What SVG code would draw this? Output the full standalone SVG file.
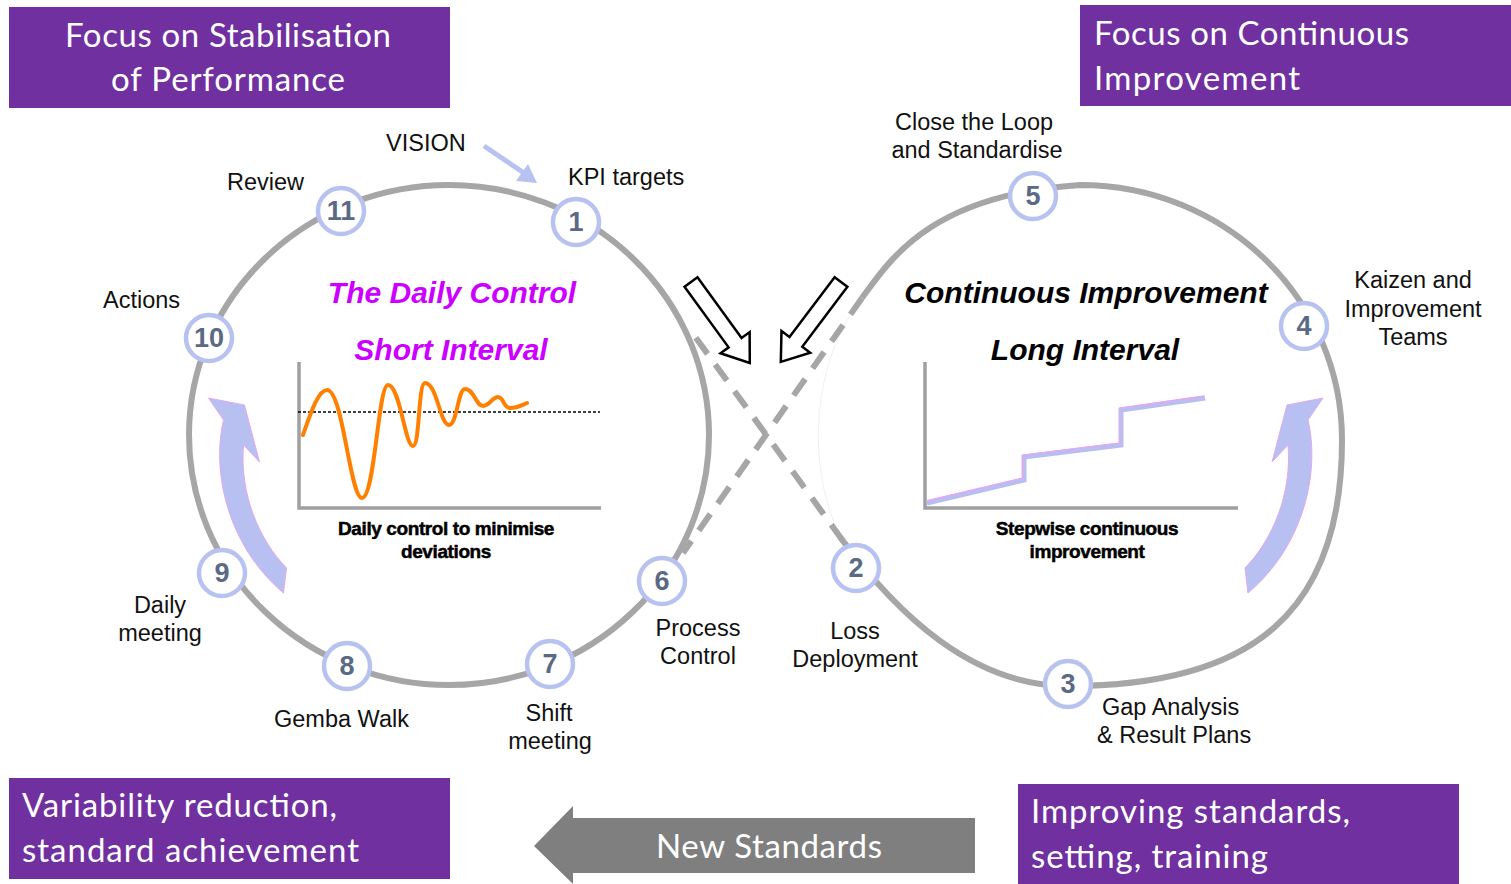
<svg xmlns="http://www.w3.org/2000/svg" width="1511" height="884" viewBox="0 0 1511 884">
<defs>
<style>
.loop{fill:none;stroke:#a6a6a6;stroke-width:6}
.dash{fill:none;stroke:#a6a6a6;stroke-width:6;stroke-dasharray:20 13}
.nc{fill:#fff;stroke:#b8c2f1;stroke-width:4.5}
.nt{font-family:"Liberation Sans",Arial,sans-serif;font-weight:bold;font-size:27px;fill:#5a6a84;text-anchor:middle}
.lb{font-family:"Liberation Sans",Arial,sans-serif;font-size:23.5px;fill:#111}
.mid{text-anchor:middle}
.box{fill:#7030a0}
.bt{font-family:Lato,"Open Sans",sans-serif;font-size:33px;fill:#fff}
.ti{font-family:"Liberation Sans",Arial,sans-serif;font-weight:bold;font-style:italic;font-size:30px;text-anchor:middle}
.cap{font-family:"Liberation Sans",Arial,sans-serif;font-weight:bold;font-size:19px;letter-spacing:-0.4px;fill:#000;stroke:#000;stroke-width:0.5;text-anchor:middle}
.axis{fill:none;stroke:#a0a0a0;stroke-width:3.5}
.hollow{fill:#fff;stroke:#000;stroke-width:2.5;stroke-linejoin:miter}
.curv{fill:#b7c0f0;stroke:#e3a8f3;stroke-width:1}
</style>
</defs>
<rect width="1511" height="884" fill="#fff"/>

<!-- purple boxes -->
<g id="box-stabilisation">
<rect class="box" x="9" y="7" width="441" height="101"/>
<text class="bt" x="228" y="47" text-anchor="middle" textLength="326">Focus on Stabilisation</text>
<text class="bt" x="228" y="91" text-anchor="middle" textLength="234">of Performance</text>
</g>
<g id="box-continuous">
<rect class="box" x="1080" y="5" width="431" height="101"/>
<text class="bt" x="1094" y="45" textLength="315">Focus on Continuous</text>
<text class="bt" x="1094" y="90" textLength="206">Improvement</text>
</g>
<g id="box-variability">
<rect class="box" x="9" y="778" width="441" height="101"/>
<text class="bt" x="22" y="817" textLength="315">Variability reduction,</text>
<text class="bt" x="22" y="862" textLength="337">standard achievement</text>
</g>
<g id="box-improving">
<rect class="box" x="1018" y="784" width="441" height="100"/>
<text class="bt" x="1031" y="823" textLength="319">Improving standards,</text>
<text class="bt" x="1031" y="868" textLength="237">setting, training</text>
</g>
<g id="new-standards">
<polygon points="534,846 573,806 573,818 975,818 975,873 573,873 573,884" fill="#7f7f7f"/>
<text class="bt" x="769" y="858" text-anchor="middle" textLength="226">New Standards</text>
</g>

<!-- loops -->
<g id="loops">
<ellipse class="loop" cx="449" cy="435" rx="260" ry="250"/>
<path d="M862,298 C820,350 800,450 840,537" fill="none" stroke="#f0f0f0" stroke-width="1"/>
<path class="loop" d="M862,298 C890,260 930,195 1080,185 C1225,185 1342,299 1342,440 C1342,610 1255,686 1068,686 C972,686 897,614 840,537"/>
</g>

<!-- connectors -->
<g id="connectors">
<line class="dash" x1="862" y1="298" x2="683" y2="553"/>
<line class="dash" x1="843" y1="541" x2="691" y2="331"/>
<g id="vision-arrow">
<line x1="484" y1="146" x2="524" y2="173" stroke="#b8c2f1" stroke-width="5"/>
<polygon points="537,183 516,181 528,164" fill="#b8c2f1"/>
</g>
<polygon class="hollow" transform="translate(691,282) rotate(54)" points="0,-8 75,-8 75,-18 100,0 75,18 75,8 0,8"/>
<polygon class="hollow" transform="translate(841,282) rotate(127)" points="0,-8 75,-8 75,-18 100,0 75,18 75,8 0,8"/>
<path id="curve-right" class="curv" d="M1323,398 L1308,420 C1320,470 1305,545 1248,593 L1245,568 C1272,540 1292,495 1288,445 L1272,462 L1287,405 Z"/>
<path id="curve-left" class="curv" transform="translate(1531.5,0) scale(-1,1)" d="M1323,398 L1308,420 C1320,470 1305,545 1248,593 L1245,568 C1272,540 1292,495 1288,445 L1272,462 L1287,405 Z"/>
</g>

<!-- titles -->
<g id="title-daily">
<text class="ti" x="452" y="303" fill="#cc00ff" font-size="29.5">The Daily Control</text>
<text class="ti" x="451" y="360" fill="#cc00ff">Short Interval</text>
</g>
<g id="title-ci">
<text class="ti" x="1086" y="303" fill="#000" font-size="29">Continuous Improvement</text>
<text class="ti" x="1085" y="360" fill="#000">Long Interval</text>
</g>

<!-- chart 1 -->
<g id="chart-daily">
<path class="axis" d="M299,362 V508 H601"/>
<line x1="298" y1="412" x2="600" y2="412" stroke="#000" stroke-width="1.5" stroke-dasharray="3 2"/>
<path fill="none" stroke="#ff8000" stroke-width="4" stroke-linecap="round" d="M303,435 C310,415 318,390 327,390 C343,390 350,498 362,498 C375,498 378,385 388,385 C400,385 405,446 413,446 C420,446 418,383 425,383 C437,383 440,425 449,425 C457,425 458,389 465,389 C474,389 476,406 483,406 C490,406 492,397 498,397 C504,397 503,408 510,408 C517,408 522,405 527,403"/>
<text class="cap" x="446" y="535">Daily control to minimise</text>
<text class="cap" x="446" y="558">deviations</text>
</g>

<!-- chart 2 -->
<g id="chart-ci">
<path class="axis" d="M925,362 V508 H1238"/>
<path fill="none" stroke="#b7bff0" stroke-width="5" d="M927,503 L1024,480 V457 L1121,445 V410 L1205,398"/>
<path fill="none" stroke="#e8a6f4" stroke-width="1.3" transform="translate(-1,-2)" d="M927,503 L1024,480 V457 L1121,445 V410 L1205,398"/>
<text class="cap" x="1087" y="535">Stepwise continuous</text>
<text class="cap" x="1087" y="558">improvement</text>
</g>

<!-- nodes -->
<g id="node-1"><circle class="nc" cx="576" cy="222" r="23"/><text class="nt" x="576" y="231">1</text><text class="lb" x="568" y="185">KPI targets</text></g>
<g id="node-11"><circle class="nc" cx="341" cy="211" r="23"/><text class="nt" x="341" y="220">11</text><text class="lb" x="227" y="190">Review</text></g>
<g id="node-10"><circle class="nc" cx="209" cy="338" r="23"/><text class="nt" x="209" y="347">10</text><text class="lb" x="103" y="308">Actions</text></g>
<g id="node-9"><circle class="nc" cx="222" cy="573" r="23"/><text class="nt" x="222" y="582">9</text><text class="lb mid" x="160" y="613">Daily</text><text class="lb mid" x="160" y="641">meeting</text></g>
<g id="node-8"><circle class="nc" cx="347" cy="666" r="23"/><text class="nt" x="347" y="675">8</text><text class="lb" x="274" y="727">Gemba Walk</text></g>
<g id="node-7"><circle class="nc" cx="550" cy="664" r="23"/><text class="nt" x="550" y="673">7</text><text class="lb mid" x="549" y="721">Shift</text><text class="lb mid" x="550" y="749">meeting</text></g>
<g id="node-6"><circle class="nc" cx="662" cy="581" r="23"/><text class="nt" x="662" y="590">6</text><text class="lb mid" x="698" y="636">Process</text><text class="lb mid" x="698" y="664">Control</text></g>
<g id="node-2"><circle class="nc" cx="856" cy="568" r="23"/><text class="nt" x="856" y="577">2</text><text class="lb mid" x="855" y="639">Loss</text><text class="lb mid" x="855" y="667">Deployment</text></g>
<g id="node-3"><circle class="nc" cx="1068" cy="684" r="23"/><text class="nt" x="1068" y="693">3</text><text class="lb" x="1102" y="715">Gap Analysis</text><text class="lb" x="1097" y="743">&amp; Result Plans</text></g>
<g id="node-4"><circle class="nc" cx="1304" cy="326" r="23"/><text class="nt" x="1304" y="335">4</text><text class="lb mid" x="1413" y="288">Kaizen and</text><text class="lb mid" x="1413" y="317">Improvement</text><text class="lb mid" x="1413" y="345">Teams</text></g>
<g id="node-5"><circle class="nc" cx="1033" cy="196" r="23"/><text class="nt" x="1033" y="205">5</text><text class="lb mid" x="974" y="130">Close the Loop</text><text class="lb mid" x="977" y="158">and Standardise</text></g>
<g id="vision-label"><text class="lb" x="386" y="151">VISION</text></g>
</svg>
